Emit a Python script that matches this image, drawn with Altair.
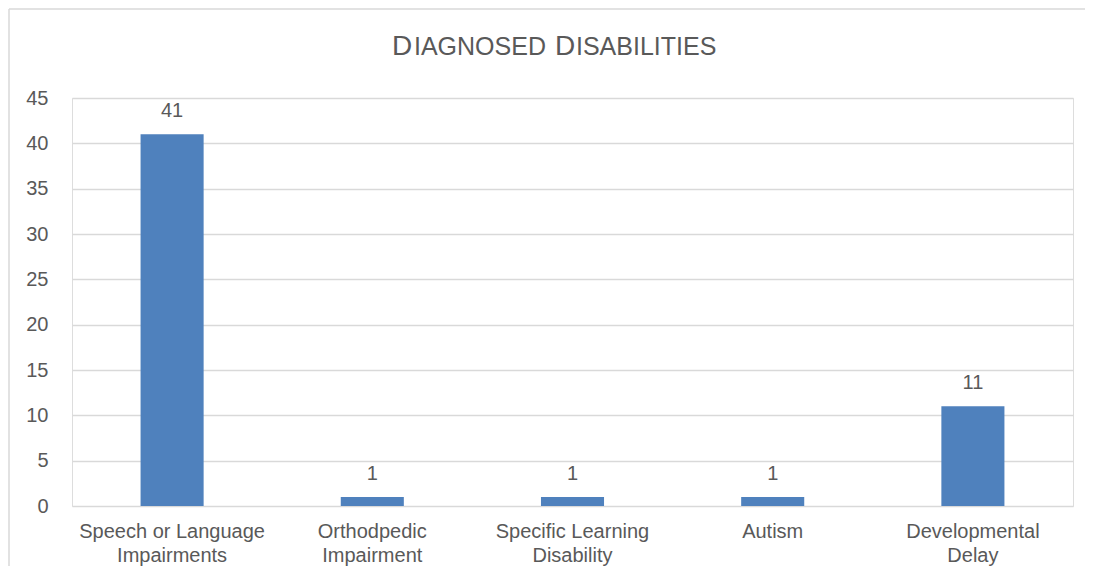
import altair as alt
import pandas as pd

categories = ["Speech or Language Impairments", "Orthodpedic Impairment",
              "Specific Learning Disability", "Autism", "Developmental Delay"]
counts = [41, 1, 1, 1, 11]
y_ticks = [0, 5, 10, 15, 20, 25, 30, 35, 40, 45]

df = pd.DataFrame({"category": categories, "count": counts})

TXT = "#595959"
FONT = "Liberation Sans"

x_enc = alt.X("category:N", sort=categories, title=None,
              scale=alt.Scale(paddingInner=0.685, paddingOuter=0.3425),
              axis=alt.Axis(labelAngle=0, ticks=False, domain=False, grid=False,
                            labelFontSize=20, labelColor=TXT, labelFont=FONT,
                            labelPadding=15, labelLineHeight=24, labelLimit=0,
                            labelBaseline="top",
                            labelExpr="indexof(datum.label,' ')<0 ? datum.label : [substring(datum.label,0,lastindexof(datum.label,' ')), substring(datum.label,lastindexof(datum.label,' ')+1)]"))
y_enc = alt.Y("count:Q", title=None,
              scale=alt.Scale(domain=[0, 45], nice=False),
              axis=alt.Axis(values=y_ticks, ticks=False, domain=False,
                            labelFontSize=20, labelColor=TXT, labelFont=FONT,
                            labelPadding=24, gridColor="#D9D9D9", gridWidth=1.5))

base = alt.Chart(df)
bars = base.mark_bar(color="#4F81BD").encode(x=x_enc, y=y_enc)
labels = base.mark_text(dy=-13, fontSize=20, color=TXT, font=FONT, baseline="bottom").encode(
    x=alt.X("category:N", sort=categories), y=alt.Y("count:Q"), text="count:Q")

one = pd.DataFrame({"a": [0]})
frame_left = alt.Chart(one).mark_rule(color="#D9D9D9", strokeWidth=1.5).encode(
    x=alt.value(-63), y=alt.value(-89), y2=alt.value(468))
frame_top = alt.Chart(one).mark_rule(color="#D9D9D9", strokeWidth=1.5).encode(
    x=alt.value(-63), x2=alt.value(1013), y=alt.value(-89))

title_parts = [("D", 28, 320), ("IAGNOSED", 25, 342), ("D", 28, 483), ("ISABILITIES", 25, 504)]
title_layers = []
for txt, size, xpos in title_parts:
    title_layers.append(
        alt.Chart(pd.DataFrame({"t": [txt]})).mark_text(
            align="left", baseline="alphabetic", fontSize=size, color=TXT, font=FONT).encode(
            x=alt.value(xpos), y=alt.value(-43), text="t:N"))

chart = alt.layer(frame_left, frame_top, bars, labels, *title_layers).properties(
    width=1001, height=408,
    autosize=alt.AutoSizeParams(type="none"),
    padding={"left": 64, "top": 90, "right": 12, "bottom": 60},
).configure_view(stroke="transparent", strokeWidth=0).configure(background="white")

chart.save("out.html", embed_options={"renderer": "svg", "actions": False})
